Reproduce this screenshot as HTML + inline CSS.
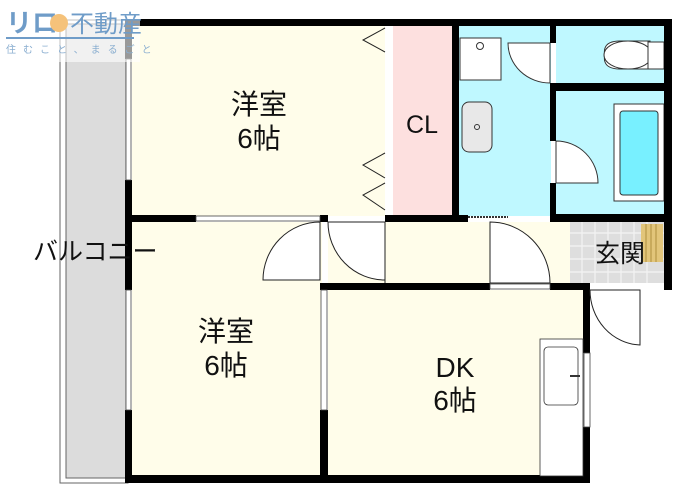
<!DOCTYPE html>
<html><head><meta charset="utf-8"><style>
html,body{margin:0;padding:0;background:#fff;}
svg{display:block;}
text{font-family:"Liberation Sans","Noto Sans CJK JP",sans-serif;fill:#111;}
</style></head><body>
<svg width="700" height="504" viewBox="0 0 700 504" xmlns="http://www.w3.org/2000/svg">
<rect x="60" y="20" width="68" height="463" fill="#fff" stroke="#666" stroke-width="1"/>
<rect x="66" y="24" width="60" height="454" fill="#dcdcdc" stroke="#666" stroke-width="1"/>
<rect x="132" y="26" width="253" height="190" fill="#fffdea"/>
<rect x="385" y="26" width="8" height="190" fill="#fff"/>
<rect x="393" y="26" width="59" height="190" fill="#fde0df"/>
<rect x="459" y="26" width="92" height="190" fill="#bff8ff"/>
<rect x="556" y="26" width="108" height="58" fill="#bff8ff"/>
<rect x="556" y="91" width="108" height="123" fill="#bff8ff"/>
<rect x="132" y="222" width="190" height="254" fill="#fffdea"/>
<rect x="328" y="222" width="242" height="62" fill="#fffdea"/>
<rect x="570" y="221" width="94" height="62" fill="#dedede"/>
<g stroke="#f4f4f4" stroke-width="1.2">
<line x1="570" y1="233" x2="664" y2="233"/><line x1="570" y1="246" x2="664" y2="246"/><line x1="570" y1="259" x2="664" y2="259"/><line x1="570" y1="272" x2="664" y2="272"/>
<line x1="582" y1="221" x2="582" y2="283"/><line x1="595" y1="221" x2="595" y2="283"/><line x1="608" y1="221" x2="608" y2="283"/><line x1="621" y1="221" x2="621" y2="283"/><line x1="634" y1="221" x2="634" y2="283"/><line x1="647" y1="221" x2="647" y2="283"/>
</g>
<rect x="641" y="224" width="22" height="38" fill="#e2c57a"/>
<g stroke="#a08030" stroke-width="0.8"><line x1="646" y1="224" x2="646" y2="262"/><line x1="651" y1="224" x2="651" y2="262"/><line x1="656" y1="224" x2="656" y2="262"/></g>
<rect x="328" y="290" width="255" height="186" fill="#fffdea"/>
<g fill="none" stroke="#222" stroke-width="1">
<polyline points="385,28 363,40 385,52"/>
<polyline points="385,153 363,165 385,178"/>
<polyline points="385,183 363,195 385,210"/>
</g>
<rect x="460" y="38" width="41" height="42" fill="#fff" stroke="#333"/>
<circle cx="480" cy="46" r="3.5" fill="#fff" stroke="#333"/>
<rect x="462" y="102" width="30" height="50" rx="7" fill="#e8e8e8" stroke="#333"/>
<circle cx="477" cy="127" r="2.5" fill="none" stroke="#333"/>
<path d="M508,43 L550,43 L550,83 A42,40 0 0 1 508,43 Z" fill="#fff" stroke="#333"/>
<!-- toilet -->
<path d="M650,41 L620,41 C600,41 605,55 605,55 C605,55 600,69 620,69 L650,69 Z" fill="#fff" stroke="#333"/>
<ellipse cx="628" cy="55" rx="24" ry="14" fill="#fff" stroke="#333"/>
<rect x="648" y="42" width="16" height="27" fill="#fff" stroke="#333"/>
<rect x="614" y="104" width="50" height="97" fill="#fff" stroke="#333"/>
<rect x="620" y="111" width="38" height="84" rx="3" fill="#78f0ff" stroke="#333"/>
<path d="M556,141 L556,183 L598,183 A42,42 0 0 0 556,141 Z" fill="#fff" stroke="#333"/>
<g fill="#000">
<rect x="125" y="19" width="547" height="7"/>
<rect x="125" y="19" width="7" height="40"/>
<rect x="125" y="180" width="7" height="110"/>
<rect x="125" y="410" width="7" height="73"/>
<rect x="125" y="475" width="465" height="8"/>
<rect x="664" y="19" width="8" height="271"/>
<rect x="583" y="283" width="7" height="70"/>
<rect x="583" y="427" width="7" height="56"/>
<rect x="452" y="19" width="7" height="200"/>
<rect x="550" y="19" width="6" height="24"/>
<rect x="550" y="83" width="6" height="58"/>
<rect x="550" y="183" width="6" height="38"/>
<rect x="550" y="83" width="122" height="8"/>
<rect x="550" y="214" width="122" height="8"/>
<rect x="125" y="215" width="71" height="7"/>
<rect x="320" y="215" width="8" height="7"/>
<rect x="385" y="215" width="83" height="7"/>
<rect x="320" y="283" width="170" height="7"/>
<rect x="550" y="283" width="40" height="7"/>
<rect x="320" y="410" width="8" height="73"/>
</g>
<g fill="#fff" stroke="#444" stroke-width="0.8">
<rect x="126" y="59" width="5" height="121"/>
<rect x="126" y="290" width="5" height="120"/>
<rect x="196" y="216" width="124" height="5"/>
<rect x="321" y="290" width="6" height="120"/>
<rect x="584" y="353" width="6" height="74"/>
<rect x="490" y="284" width="60" height="5"/>
</g>
<line x1="468" y1="217" x2="508" y2="217" stroke="#333" stroke-dasharray="2,1" stroke-width="2"/>
<g fill="#fff" stroke="#222" stroke-width="1">
<path d="M320,222 L320,280 L263,280 A57,58 0 0 1 320,222 Z"/>
<path d="M328,222 L385,222 L385,280 A57,58 0 0 1 328,222 Z"/>
<path d="M490,222 L490,283 L550,283 A60,61 0 0 0 490,222 Z"/>
<path d="M590,290 L640,290 L640,345 A52,55 0 0 1 590,290 Z" fill="none"/>
</g>
<line x1="385" y1="222" x2="385" y2="283" stroke="#222"/>
<rect x="540" y="339" width="43" height="137" fill="#fff" stroke="#333" stroke-width="0.8"/>
<rect x="544" y="347" width="34" height="58" rx="4" fill="#fff" stroke="#333" stroke-width="0.8"/>
<line x1="570" y1="376" x2="580" y2="376" stroke="#333" stroke-width="2"/>
<text x="259" y="114" font-size="28" text-anchor="middle">洋室</text>
<text x="259" y="148" font-size="28" text-anchor="middle">6帖</text>
<text x="226" y="341" font-size="28" text-anchor="middle">洋室</text>
<text x="226" y="375" font-size="28" text-anchor="middle">6帖</text>
<text x="455" y="377" font-size="28" text-anchor="middle">DK</text>
<text x="455" y="410" font-size="28" text-anchor="middle">6帖</text>
<text x="422" y="133" font-size="25" text-anchor="middle">CL</text>
<text x="620" y="262" font-size="25" text-anchor="middle">玄関</text>
<text x="33" y="260" font-size="25">バルコニー</text>
<rect x="0" y="0" width="140" height="62" fill="#fff" opacity="0.6"/>
<text x="6" y="32" font-size="26" style="fill:#6f9cc8" font-weight="bold">リロ</text>
<circle cx="59" cy="23" r="9" fill="#f5c27a"/>
<text x="70" y="32" font-size="24" style="fill:#6f9cc8">不動産</text>
<rect x="6" y="37" width="128" height="2" fill="#6f9cc8"/>
<text x="6" y="53" font-size="10" letter-spacing="7" style="fill:#8aaed0">住むこと、まるごと</text>
</svg>
</body></html>
